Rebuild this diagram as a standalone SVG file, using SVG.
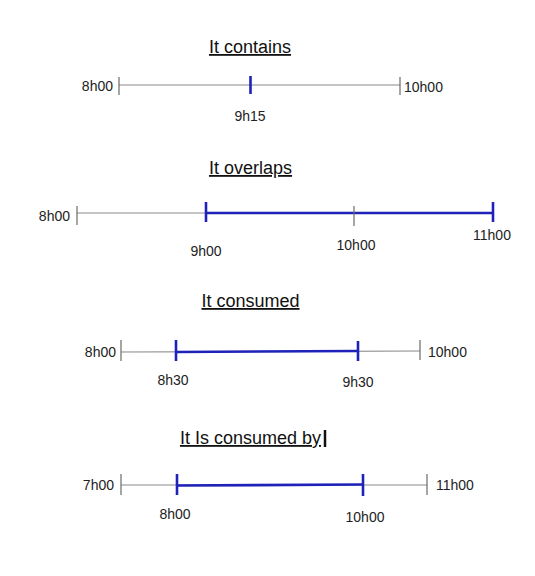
<svg xmlns="http://www.w3.org/2000/svg" width="535" height="576" viewBox="0 0 535 576">
<style>
.title{font-family:"Liberation Sans",Arial,sans-serif;font-size:18px;fill:#111;text-anchor:middle;text-decoration:underline}
.lbl{font-family:"Liberation Sans",Arial,sans-serif;font-size:14px;fill:#222}
.axis{stroke:#8a8a8a;stroke-width:1.2;fill:none}
.tick{stroke:#6a6a6a;stroke-width:1.2}
.seg{stroke:#1f22b8;stroke-width:2.6;fill:none}
.btick{stroke:#1f22b8;stroke-width:2.6}
</style>
<rect width="535" height="576" fill="#fff"/>

<g id="panel-contains">
<text class="title" x="250" y="53">It contains</text>
<line class="axis" x1="119" y1="85" x2="400" y2="85"/>
<line class="tick" x1="119" y1="77" x2="119" y2="95"/>
<line class="tick" x1="400" y1="77" x2="400" y2="95"/>
<line class="btick" x1="250.5" y1="76" x2="250.5" y2="94"/>
<text class="lbl" x="113" y="91" text-anchor="end">8h00</text>
<text class="lbl" x="404" y="92">10h00</text>
<text class="lbl" x="250" y="121" text-anchor="middle">9h15</text>
</g>

<g id="panel-overlaps">
<text class="title" x="250.5" y="174">It overlaps</text>
<line class="axis" x1="77" y1="213" x2="206" y2="213"/>
<line class="tick" x1="77" y1="206" x2="77" y2="225"/>
<line class="seg" x1="206" y1="213" x2="493" y2="213"/>
<line class="btick" x1="206" y1="202" x2="206" y2="222"/>
<line class="tick" x1="354" y1="206" x2="354" y2="226"/>
<line class="btick" x1="493" y1="202" x2="493" y2="222"/>
<text class="lbl" x="70" y="221" text-anchor="end">8h00</text>
<text class="lbl" x="206" y="256" text-anchor="middle">9h00</text>
<text class="lbl" x="356" y="250" text-anchor="middle">10h00</text>
<text class="lbl" x="492" y="240" text-anchor="middle">11h00</text>
</g>

<g id="panel-consumed">
<text class="title" x="250.5" y="307">It consumed</text>
<line class="axis" x1="121" y1="352" x2="420" y2="351"/>
<line class="tick" x1="121" y1="340" x2="121" y2="361"/>
<line class="tick" x1="420" y1="340" x2="420" y2="360"/>
<line class="seg" x1="176" y1="352" x2="358" y2="351"/>
<line class="btick" x1="176" y1="340" x2="176" y2="361"/>
<line class="btick" x1="358" y1="341" x2="358" y2="361"/>
<text class="lbl" x="116" y="357" text-anchor="end">8h00</text>
<text class="lbl" x="428" y="357">10h00</text>
<text class="lbl" x="173" y="385" text-anchor="middle">8h30</text>
<text class="lbl" x="358" y="387" text-anchor="middle">9h30</text>
</g>

<g id="panel-consumed-by">
<text class="title" x="250.5" y="444">It Is consumed by</text>
<line x1="325" y1="430" x2="325" y2="447" stroke="#111" stroke-width="2.5"/>
<line class="axis" x1="121" y1="485" x2="427" y2="485"/>
<line class="tick" x1="121" y1="474" x2="121" y2="495"/>
<line class="tick" x1="427" y1="474" x2="427" y2="495"/>
<line class="seg" x1="177" y1="485.5" x2="363" y2="484.5"/>
<line class="btick" x1="177" y1="474" x2="177" y2="495"/>
<line class="btick" x1="363" y1="474" x2="363" y2="496"/>
<text class="lbl" x="114" y="490" text-anchor="end">7h00</text>
<text class="lbl" x="436" y="490">11h00</text>
<text class="lbl" x="175" y="519" text-anchor="middle">8h00</text>
<text class="lbl" x="365" y="522" text-anchor="middle">10h00</text>
</g>
</svg>
